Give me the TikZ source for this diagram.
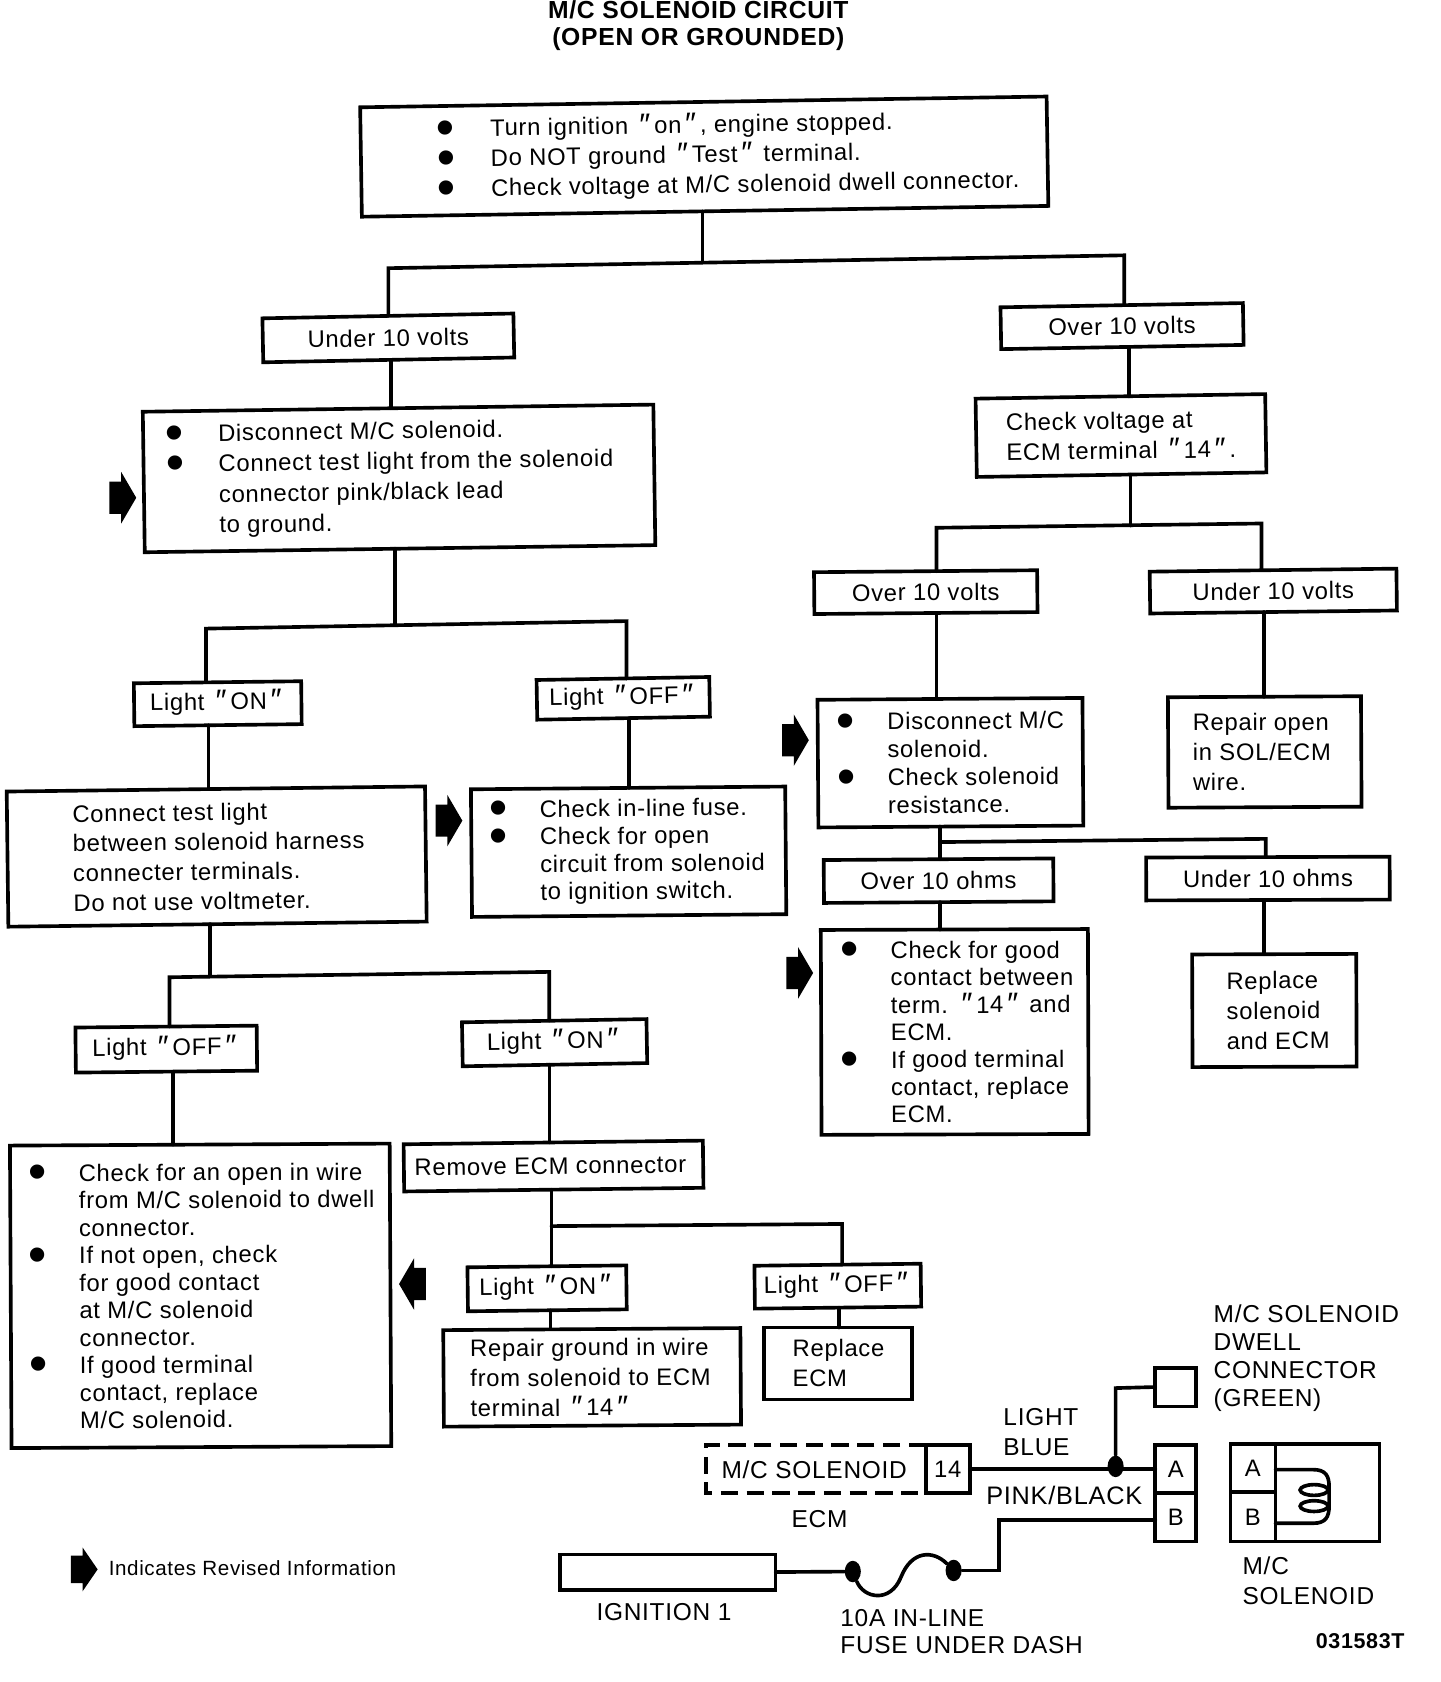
\documentclass[tikz,border=0pt]{standalone}
\usepackage{fontspec}
\setmainfont[LetterSpace=3]{Liberation Sans}
\usepackage{graphicx}
\newcommand{\tbx}[4]{\makebox[\dimexpr#1pt/2\relax][l]{\hspace*{\dimexpr#2pt/2\relax}\raisebox{-1.8pt}{\begin{minipage}[c]{12cm}\baselineskip=\dimexpr#3pt/2\relax\raggedright #4\end{minipage}}}}
\newcommand{\bul}[1]{\leavevmode\llap{\smash{\raisebox{-0.34em}{\scalebox{2.2}{\textbullet}}}\hspace{\dimexpr#1pt/2-4.5pt\relax}}}
\newcommand{\dq}{\kern.16em\smash{\raisebox{-.07em}{\scalebox{1.3}{″}}}\kern.16em}
\newcommand{\vc}[3]{\draw[wire] ([xshift=#3*0.5pt]#1.south) -- ([xshift=#3*0.5pt]#1.south |- #2.north);}
\tikzset{
  bx/.style n args={3}{draw,line width=1.7pt,inner sep=0pt,outer sep=0pt,minimum width=#1*0.5pt,minimum height=#2*0.5pt,rotate=#3,font=\fontsize{11.1}{14}\selectfont},
  wire/.style={line width=1.7pt,line cap=round,line join=miter},
  lab/.style={inner sep=0pt,font=\fontsize{11.4}{13}\selectfont},
  revr/.pic={\fill (-12,-15) -- (-1,-15) -- (-1,-24) -- (13,0) -- (-1,24) -- (-1,15) -- (-12,15) -- cycle;},
  dotn/.style={fill,ellipse,inner sep=0pt,minimum width=7.5pt,minimum height=10pt},
}
\usetikzlibrary{shapes.geometric}
\begin{document}
\begin{tikzpicture}[x=0.5pt,y=-0.5pt]
\useasboundingbox (0,0) rectangle (1342.5,1568);
\node[inner sep=0pt,align=center,font=\bfseries\fontsize{11.5}{12.5}\selectfont] (title) at (651,24) {M/C SOLENOID CIRCUIT\\(OPEN OR GROUNDED)};
% left and centre flow
\node[bx={640}{102}{0.9}] (top) at (656.5,146) {\tbx{640}{121}{28}{\bul{42}Turn ignition \dq on\dq, engine stopped.\\\bul{42}Do NOT ground \dq Test\dq\ terminal.\\\bul{42}Check voltage at M/C solenoid dwell connector.}};
\node[bx={234}{41}{1.1}] (u10) at (362,315) {Under 10 volts};
\node[bx={226}{39}{1}] (o10) at (1046,304) {Over 10 volts};
\node[bx={270}{73}{0.9}] (chk) at (1045,406) {\tbx{270}{28}{28}{Check voltage at\\ECM terminal \dq 14\dq.}};
\node[bx={476}{131}{0.8}] (dis) at (372,446) {\tbx{476}{70}{28.5}{\bul{41}Disconnect M/C solenoid.\\\bul{41}Connect test light from the solenoid\\connector pink/black lead\\to ground.}};
\node[bx={208}{39}{0.5}] (ro10) at (863,552) {Over 10 volts};
\node[bx={230}{39}{0.7}] (ru10) at (1187,551) {Under 10 volts};
\node[bx={156}{40}{0.7}] (lon) at (203,656) {Light \dq ON\dq};
\node[bx={161}{37}{1}] (loff) at (581,651) {Light \dq OFF\dq};
\node[bx={390}{126}{0.7}] (conn) at (202,798.5) {\tbx{390}{61}{27.7}{Connect test light\\between solenoid harness\\connecter terminals.\\Do not use voltmeter.}};
\node[bx={293}{119}{0.5}] (fuse) at (586,794) {\tbx{293}{64}{25.7}{\bul{39}Check in-line fuse.\\\bul{39}Check for open\\circuit from solenoid\\to ignition switch.}};
\node[bx={247}{119}{0.4}] (rdis) at (886,711) {\tbx{247}{65}{26}{\bul{39}Disconnect M/C\\solenoid.\\\bul{39}Check solenoid\\resistance.}};
\node[bx={180}{103}{0.3}] (rep) at (1179,701) {\tbx{180}{23}{28}{Repair open\\in SOL/ECM\\wire.}};
\node[bx={214}{40}{0.4}] (oohm) at (875,821) {Over 10 ohms};
\node[bx={227}{40}{0.2}] (uohm) at (1182,819) {Under 10 ohms};
\node[bx={249}{191}{0.2}] (good) at (890,962) {\tbx{249}{65}{25.5}{\bul{39}Check for good\\contact between\\term. \dq 14\dq\ and\\ECM.\\\bul{39}If good terminal\\contact, replace\\ECM.}};
\node[bx={153}{105}{0.2}] (rsol) at (1188,942) {\tbx{153}{32}{28}{Replace\\solenoid\\and ECM}};
\node[bx={169}{42}{0.6}] (l2off) at (155,978) {Light \dq OFF\dq};
\node[bx={172}{41}{1}] (l2on) at (517,972) {Light \dq ON\dq};
\node[bx={354}{282}{0.3}] (open) at (187,1208) {\tbx{354}{64}{25.6}{\bul{39}Check for an open in wire\\from M/C solenoid to dwell\\connector.\\\bul{39}If not open, check\\for good contact\\at M/C solenoid\\connector.\\\bul{39}If good terminal\\contact, replace\\M/C solenoid.}};
\node[bx={279}{44}{0.7}] (rem) at (516,1087) {\tbx{279}{10}{28}{Remove ECM connector}};
\node[bx={148}{41}{0.7}] (l3on) at (510,1201) {Light \dq ON\dq};
\node[bx={155}{40}{0.7}] (l3off) at (781,1199) {Light \dq OFF\dq};
\node[bx={277}{90}{0.4}] (rgnd) at (552,1284) {\tbx{277}{25}{28}{Repair ground in wire\\from solenoid to ECM\\terminal \dq 14\dq}};
\node[bx={138}{67}{0}] (recm) at (781,1271) {\tbx{138}{27}{28}{Replace\\ECM}};
% bus junctions
\coordinate (b1) at (655,244); \coordinate (b1l) at (362,250); \coordinate (b1r) at (1048,238);
\coordinate (b2) at (1054,490); \coordinate (b2l) at (873,492); \coordinate (b2r) at (1176,488);
\coordinate (b3) at (368,582); \coordinate (b3l) at (192,586); \coordinate (b3r) at (584,579);
\coordinate (b4) at (196,909); \coordinate (b4l) at (158,911); \coordinate (b4r) at (512,906);
\coordinate (b5) at (514,1143); \coordinate (b5r) at (785,1141);
\coordinate (b6) at (876,785); \coordinate (b6r) at (1180,782);
% connectors
\draw[wire] (b1 |- top.south) -- (b1);
\draw[wire] (b1l |- u10.north) -- (b1l) -- (b1r) -- (b1r |- o10.north);
\vc{u10}{dis}{2}
\vc{o10}{chk}{6}
\draw[wire] (b2 |- chk.south) -- (b2);
\draw[wire] (b2l |- ro10.north) -- (b2l) -- (b2r) -- (b2r |- ru10.north);
\vc{ro10}{rdis}{10}
\vc{ru10}{rep}{-9}
\draw[wire] (b3 |- dis.south) -- (b3);
\draw[wire] (b3l |- lon.north) -- (b3l) -- (b3r) -- (b3r |- loff.north);
\vc{lon}{conn}{-9}
\vc{loff}{fuse}{5}
\draw[wire] (b4 |- conn.south) -- (b4);
\draw[wire] (b4l |- l2off.north) -- (b4l) -- (b4r) -- (b4r |- l2on.north);
\vc{l2off}{open}{6}
\vc{l2on}{rem}{-5}
\draw[wire] (b5 |- rem.south) -- (b5 |- l3on.north);
\draw[wire] (b5) -- (b5r) -- (b5r |- l3off.north);
\vc{l3on}{rgnd}{3}
\vc{l3off}{recm}{1}
\draw[wire] (b6 |- rdis.south) -- (b6 |- oohm.north);
\draw[wire] (b6) -- (b6r) -- (b6r |- uohm.north);
\vc{oohm}{good}{1}
\vc{uohm}{rsol}{-4}
% revised-information arrows
\pic at (114,464) {revr};
\pic at (418,765) {revr};
\pic at (741,690) {revr};
\pic at (745,907) {revr};
\pic[xscale=-1] at (385,1197) {revr};
\pic[yscale=0.85] at (78,1463) {revr};
\node[lab,anchor=west,font=\fontsize{9.6}{11}\selectfont] (legend) at (101,1462) {Indicates Revised Information};
% wiring schematic
\node[bx={38}{36}{0}] (dwell) at (1096,1293) {};
\node[bx={38}{45}{0}] (ca) at (1096,1369.5) {A};
\node[bx={38}{45}{0}] (cb) at (1096,1414.5) {B};
\node[bx={41}{45}{0}] (t14) at (883.5,1369.5) {14};
\node[bx={201}{33}{0}] (ign) at (622.5,1465.5) {};
\node[bx={42}{45}{0}] (sa) at (1168,1368.5) {A};
\node[bx={42}{46}{0}] (sb) at (1168,1414) {B};
\node[bx={97}{91}{0}] (sbody) at (1237.5,1391.5) {};
\draw[line width=1.7pt,dash pattern=on 8pt off 4pt] (t14.north west) -- (658,1347) -- (658,1392) -- (t14.south west);
\node[lab] (lsol) at (759,1370) {M/C SOLENOID};
\node[lab] (lecm) at (764,1416) {ECM};
\node[lab,anchor=west,align=left] (lblue) at (935,1335) {LIGHT\\[1.3pt]BLUE};
\node[lab,anchor=west,font=\fontsize{11.8}{13}\selectfont] (lpink) at (919,1394) {PINK/BLACK};
\node[lab,anchor=west,align=left] (ldwell) at (1131,1266) {M/C SOLENOID\\DWELL\\CONNECTOR\\(GREEN)};
\node[lab,anchor=west,align=left] (lmc) at (1158,1474) {M/C\\[1pt]SOLENOID};
\node[lab] (lign) at (619,1503) {IGNITION 1};
\node[lab,anchor=west,align=left] (lfuse) at (783,1521) {10A IN-LINE\\FUSE UNDER DASH};
\node[lab,font=\bfseries\fontsize{10}{11}\selectfont] (lcode) at (1268,1530) {031583T};
\node[dotn] (d1) at (1040,1367) {};
\node[dotn] (f1) at (795,1465) {};
\node[dotn] (f2) at (889,1464) {};
\coordinate (w1) at (1040,1294);
\coordinate (w2) at (931,1417);
\coordinate (w3) at (931,1464);
\draw[wire] (dwell.west) -- (w1) -- (d1);
\draw[wire] (t14.east) -- (ca.west |- t14.east);
\draw[wire] (ca.west |- w2) -- (w2) -- (w3) -- (f2);
\draw[wire] (ign.east) -- (f1);
\draw[wire] (f1) .. controls (805,1490) and (830,1495) .. (840,1470) .. controls (850,1445) and (870,1445) .. (f2);
\coordinate (c1) at (1189,1370); \coordinate (c2) at (1189,1420);
\draw[wire] (c1) -- (1224,1370) .. controls (1236,1370) and (1239,1376) .. (1239,1386) -- (1239,1404) .. controls (1239,1414) and (1236,1420) .. (1224,1420) -- (c2);
\draw[line width=1.7pt] (1225,1389) ellipse (13 and 5);
\draw[line width=1.7pt] (1225,1404) ellipse (13 and 5);
\end{tikzpicture}
\end{document}
